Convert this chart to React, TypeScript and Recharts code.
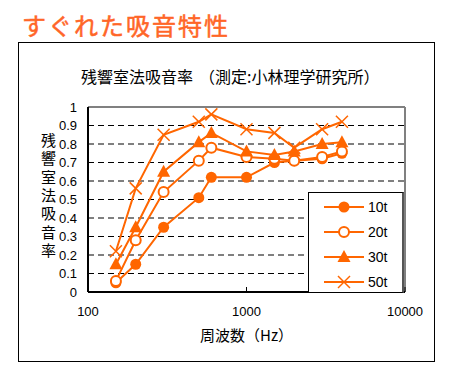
import React from "react";
import {
  LineChart,
  Line,
  XAxis,
  YAxis,
  CartesianGrid,
  ReferenceLine,
  Legend,
} from "recharts";

// 周波数 (Hz)
const frequencies = [150, 200, 300, 500, 600, 1000, 1500, 2000, 3000, 4000];
const t10 = [0.05, 0.15, 0.35, 0.51, 0.62, 0.62, 0.7, 0.71, 0.72, 0.75];
const t20 = [0.06, 0.28, 0.54, 0.71, 0.78, 0.73, 0.72, 0.71, 0.73, 0.76];
const t30 = [0.15, 0.35, 0.65, 0.81, 0.86, 0.76, 0.74, 0.76, 0.8, 0.81];
const t50 = [0.22, 0.56, 0.85, 0.92, 0.96, 0.88, 0.86, 0.78, 0.88, 0.92];
const seriesNames = ["10t", "20t", "30t", "50t"];
const xTicks = [100, 1000, 10000];
const yTicks = [0, 0.1, 0.2, 0.3, 0.4, 0.5, 0.6, 0.7, 0.8, 0.9, 1];

const ORANGE = "#ff6600";
const NUM_FONT = "'Liberation Sans', Arial, sans-serif";
const JP_FONT = "'Noto Sans CJK JP', sans-serif";

const data = frequencies.map((f, i) => ({
  freq: f,
  t10: t10[i],
  t20: t20[i],
  t30: t30[i],
  t50: t50[i],
}));

const keys = ["t10", "t20", "t30", "t50"];

const Marker = ({ kind, cx, cy }: { kind: number; cx: number; cy: number }) => {
  if (kind === 0) return <circle cx={cx} cy={cy} r={5.5} fill={ORANGE} />;
  if (kind === 1)
    return <circle cx={cx} cy={cy} r={5} fill="#fff" stroke={ORANGE} strokeWidth={2} />;
  if (kind === 2)
    return (
      <polygon
        points={`${cx},${cy - 7} ${cx - 6.5},${cy + 5} ${cx + 6.5},${cy + 5}`}
        fill={ORANGE}
      />
    );
  return (
    <g stroke={ORANGE} strokeWidth={1.5}>
      <line x1={cx - 6} y1={cy - 6} x2={cx + 6} y2={cy + 6} />
      <line x1={cx - 6} y1={cy + 6} x2={cx + 6} y2={cy - 6} />
    </g>
  );
};

const XTick = (props: any) => {
  const { x, y, payload } = props;
  return (
    <g>
      <line x1={x} x2={x} y1={y - 15} y2={y - 20} stroke="#000" strokeWidth={1} />
      <text
        x={x}
        y={y}
        dy="0.71em"
        textAnchor="middle"
        fill="#000"
        fontSize={13}
        fontFamily={NUM_FONT}
      >
        {payload.value}
      </text>
    </g>
  );
};

const renderLegend = () => (
  <div
    style={{
      border: "1px solid #000",
      borderRight: "2px solid #555",
      background: "#fff",
      width: 96,
      height: 101,
      boxSizing: "border-box",
      paddingTop: 1,
    }}
  >
    {seriesNames.map((name, i) => (
      <div key={name} style={{ display: "flex", alignItems: "center", height: 25 }}>
        <svg width={44} height={16} style={{ marginLeft: 13 }}>
          <line x1={2} x2={42} y1={8} y2={8} stroke={ORANGE} strokeWidth={2} />
          <Marker kind={i} cx={22} cy={8} />
        </svg>
        <span
          style={{ marginLeft: 2, fontSize: 14, fontFamily: NUM_FONT, color: "#000" }}
        >
          {name}
        </span>
      </div>
    ))}
  </div>
);

export default function App() {
  return (
    <div
      style={{
        position: "fixed",
        left: 0,
        top: 0,
        width: 468,
        height: 376,
        background: "#fff",
        overflow: "hidden",
      }}
    >
      <div
        style={{
          position: "absolute",
          left: 22,
          top: 7,
          fontSize: 24,
          fontWeight: 400,
          letterSpacing: 2,
          color: "#ff6628",
          WebkitTextStroke: "0.5px #ff6628",
          fontFamily: JP_FONT,
          whiteSpace: "nowrap",
        }}
      >
        すぐれた吸音特性
      </div>
      <div
        style={{
          position: "absolute",
          left: 18,
          top: 42,
          width: 417,
          height: 320,
          border: "1px solid #000",
          boxSizing: "border-box",
        }}
      />
      <div
        style={{
          position: "absolute",
          left: 81,
          top: 64,
          fontFamily: JP_FONT,
          color: "#000",
          whiteSpace: "nowrap",
        }}
      >
        <span style={{ fontSize: 16 }}>残響室法吸音率</span>
        <span style={{ fontSize: 16, marginLeft: 6 }}>（測定:小林理学研究所）</span>
      </div>
      <div
        style={{
          position: "absolute",
          left: 38,
          top: 133,
          writingMode: "vertical-rl",
          fontSize: 15,
          letterSpacing: 3.3,
          lineHeight: "20px",
          fontFamily: JP_FONT,
          color: "#000",
        }}
      >
        残響室法吸音率
      </div>
      <div
        style={{
          position: "absolute",
          left: 0,
          width: 493,
          top: 324,
          textAlign: "center",
          fontSize: 15,
          fontFamily: JP_FONT,
          color: "#000",
        }}
      >
        周波数（Hz）
      </div>
      <div style={{ position: "absolute", left: 0, top: 0 }}>
        <LineChart
          width={468}
          height={376}
          data={data}
          margin={{ top: 107, right: 63, bottom: 54, left: 58 }}
        >
          <CartesianGrid
            vertical={false}
            stroke="#000"
            strokeDasharray="6 4"
            horizontalValues={yTicks.slice(1, -1)}
          />
          <XAxis
            dataKey="freq"
            type="number"
            scale="log"
            domain={[100, 10000]}
            ticks={xTicks}
            allowDataOverflow
            height={30}
            tickLine={false}
            tickSize={0}
            tickMargin={15}
            axisLine={{ stroke: "#000", strokeWidth: 2 }}
            tick={<XTick />}
            interval={0}
          />
          <YAxis
            type="number"
            domain={[0, 1]}
            ticks={yTicks}
            width={30}
            tickLine={false}
            tickMargin={5}
            axisLine={{ stroke: "#000", strokeWidth: 2 }}
            tick={{ fill: "#000", fontSize: 13, fontFamily: NUM_FONT }}
            interval={0}
          />
          <ReferenceLine y={1} stroke="#808080" strokeWidth={2} />
          <ReferenceLine x={10000} stroke="#808080" strokeWidth={2} />
          {keys.map((k, i) => (
            <Line
              key={k}
              dataKey={k}
              name={seriesNames[i]}
              stroke={ORANGE}
              strokeWidth={2}
              isAnimationActive={false}
              dot={(p: any) => <Marker key={`${k}-${p.index}`} kind={i} cx={p.cx} cy={p.cy} />}
              activeDot={false}
            />
          ))}
          <Legend
            layout="vertical"
            align="center"
            verticalAlign="middle"
            content={renderLegend}
            wrapperStyle={{ position: "absolute", left: 308, top: 192, width: 96, height: 101 }}
          />
        </LineChart>
      </div>
    </div>
  );
}
